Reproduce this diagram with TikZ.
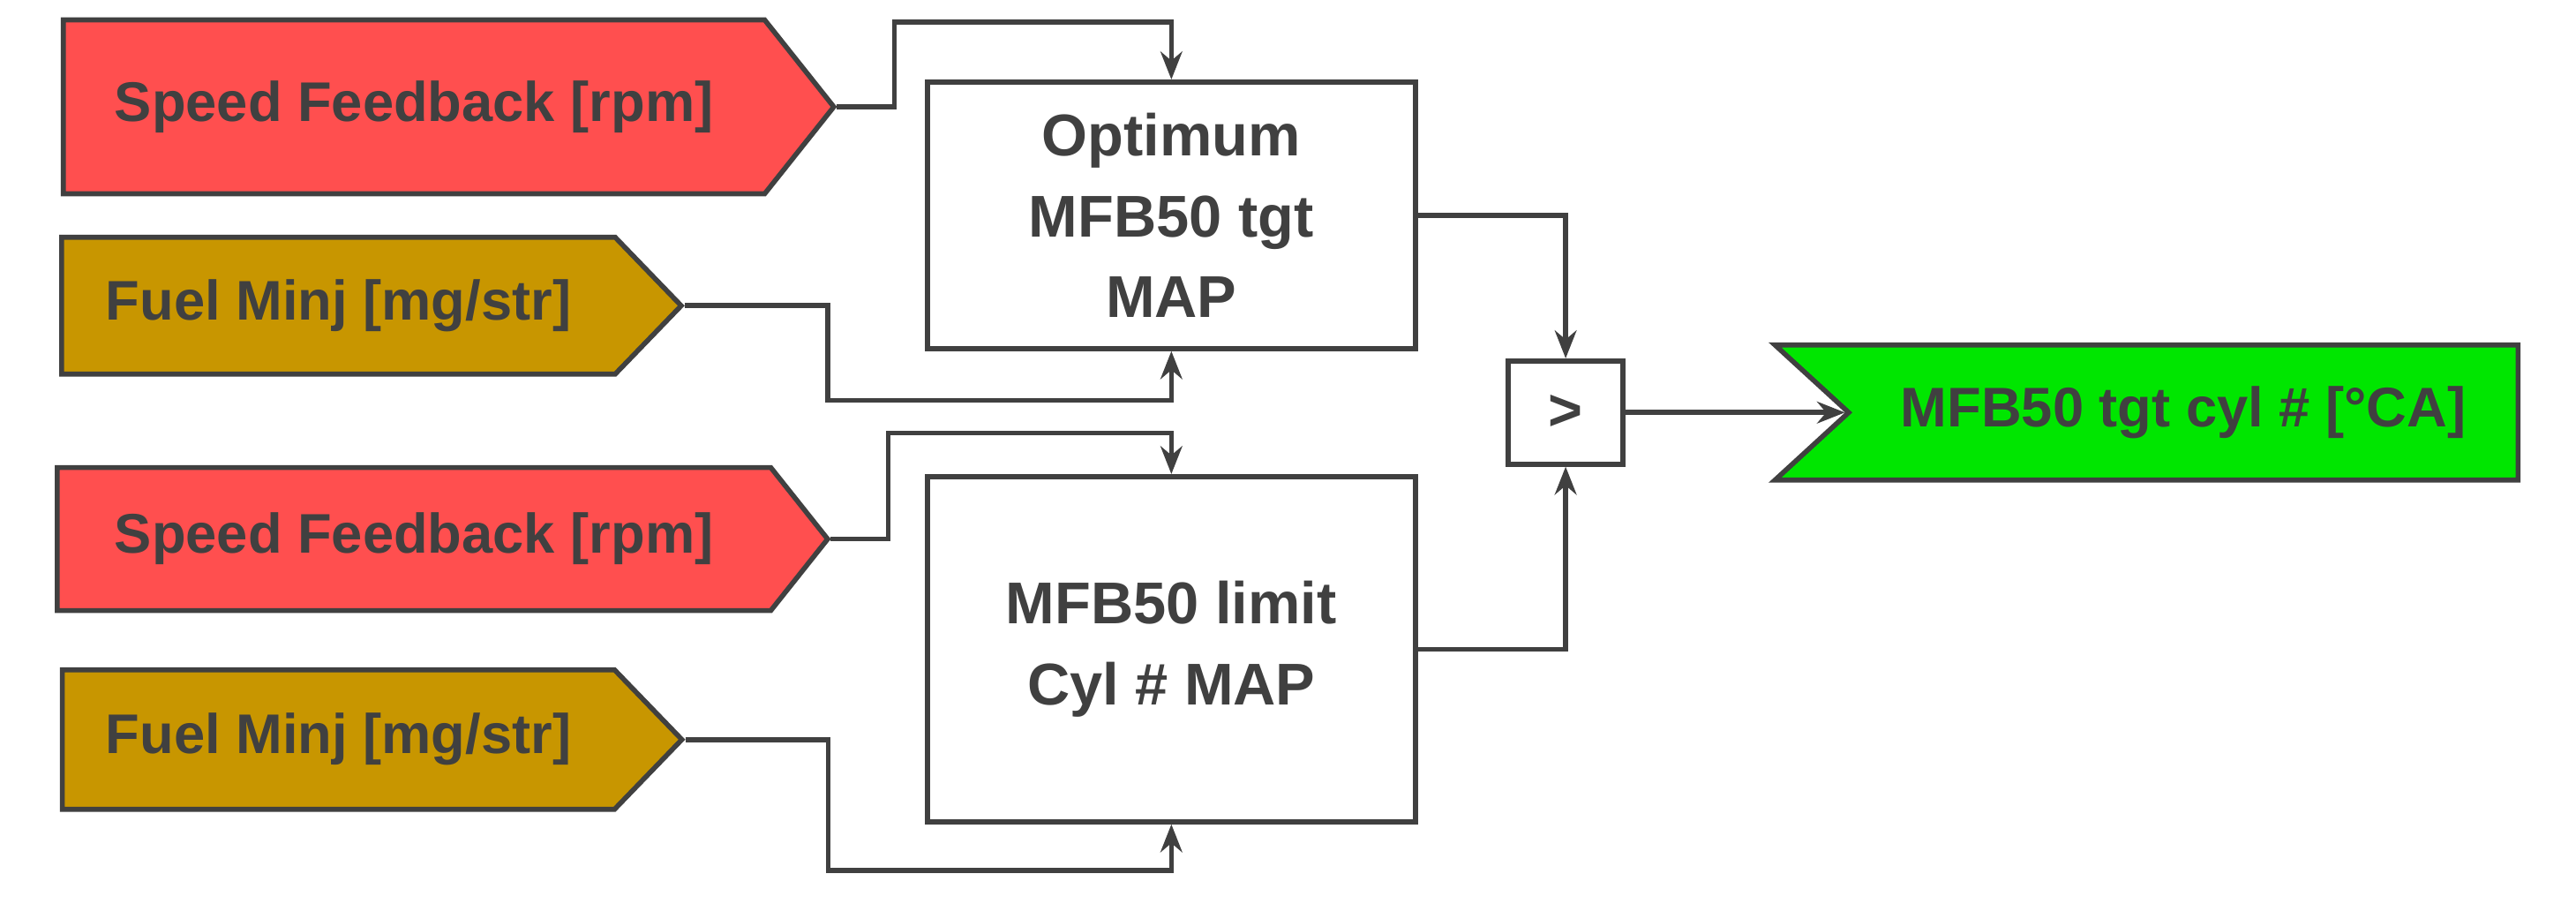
\documentclass[tikz,border=0pt]{standalone}
\usepackage{fontspec}
\setmainfont{Liberation Sans}
\usetikzlibrary{shapes.symbols,arrows.meta,calc}
\definecolor{txtgray}{HTML}{404040}
\definecolor{sigred}{HTML}{FF4F4F}
\definecolor{siggold}{HTML}{C89600}
\definecolor{siggreen}{HTML}{00E600}
\tikzset{
  sig/.style={signal, draw=txtgray, line width=1.6pt, inner sep=0pt,
    font=\fontsize{18}{22}\selectfont\bfseries, text=txtgray},
  blk/.style={draw=txtgray, line width=1.6pt, fill=white, align=center,
    font=\fontsize{19}{26}\selectfont\bfseries, text=txtgray},
  conn/.style={draw=txtgray, line width=1.6pt, -{Stealth[length=9pt,width=7pt]}}
}
\begin{document}
\begin{tikzpicture}[x=0.01862cm,y=-0.01862cm]
\useasboundingbox (0,0) rectangle (1568,550);
% inputs
\node[sig, fill=sigred, signal to=east, signal pointer angle=103,
  minimum width=8.73cm, minimum height=1.97cm] (s1) at (252,65) {Speed Feedback [rpm]};
\node[sig, fill=siggold, signal to=east, signal pointer angle=92,
  minimum width=7.02cm, minimum height=1.55cm] (f1) at (206,186) {Fuel Minj [mg/str]};
\node[sig, fill=sigred, signal to=east, signal pointer angle=103,
  minimum width=8.73cm, minimum height=1.62cm] (s2) at (252,328) {Speed Feedback [rpm]};
\node[sig, fill=siggold, signal to=east, signal pointer angle=92,
  minimum width=7.02cm, minimum height=1.58cm] (f2) at (206,450) {Fuel Minj [mg/str]};
% maps
\node[blk, minimum width=5.53cm, minimum height=3.02cm] (opt) at (713,131) {Optimum\\MFB50 tgt\\MAP};
\node[blk, minimum width=5.53cm, minimum height=3.91cm] (lim) at (713,395) {MFB50 limit\\Cyl \# MAP};
\node[blk, minimum width=1.30cm, minimum height=1.17cm] (gt) at (953,251) {>};
% output
\node[sig, fill=siggreen, signal from=west, signal to=nowhere, signal pointer angle=85,
  minimum width=8.42cm, minimum height=1.53cm] (out) at (1329,251) {MFB50 tgt cyl \# [°CA]};
% connectors
\draw[conn] (s1.east) -- ++(35,0) |- ($(opt.north)+(0,-35)$) -- (opt.north);
\draw[conn] (f1.east) -- ++(87,0) |- ($(opt.south)+(0,30)$) -- (opt.south);
\draw[conn] (s2.east) -- ++(35,0) |- ($(lim.north)+(0,-25)$) -- (lim.north);
\draw[conn] (f2.east) -- ++(87,0) |- ($(lim.south)+(0,28)$) -- (lim.south);
\draw[conn] (opt.east) -| (gt.north);
\draw[conn] (lim.east) -| (gt.south);
\draw[conn] (gt.east) -- (out.west);
\end{tikzpicture}
\end{document}
